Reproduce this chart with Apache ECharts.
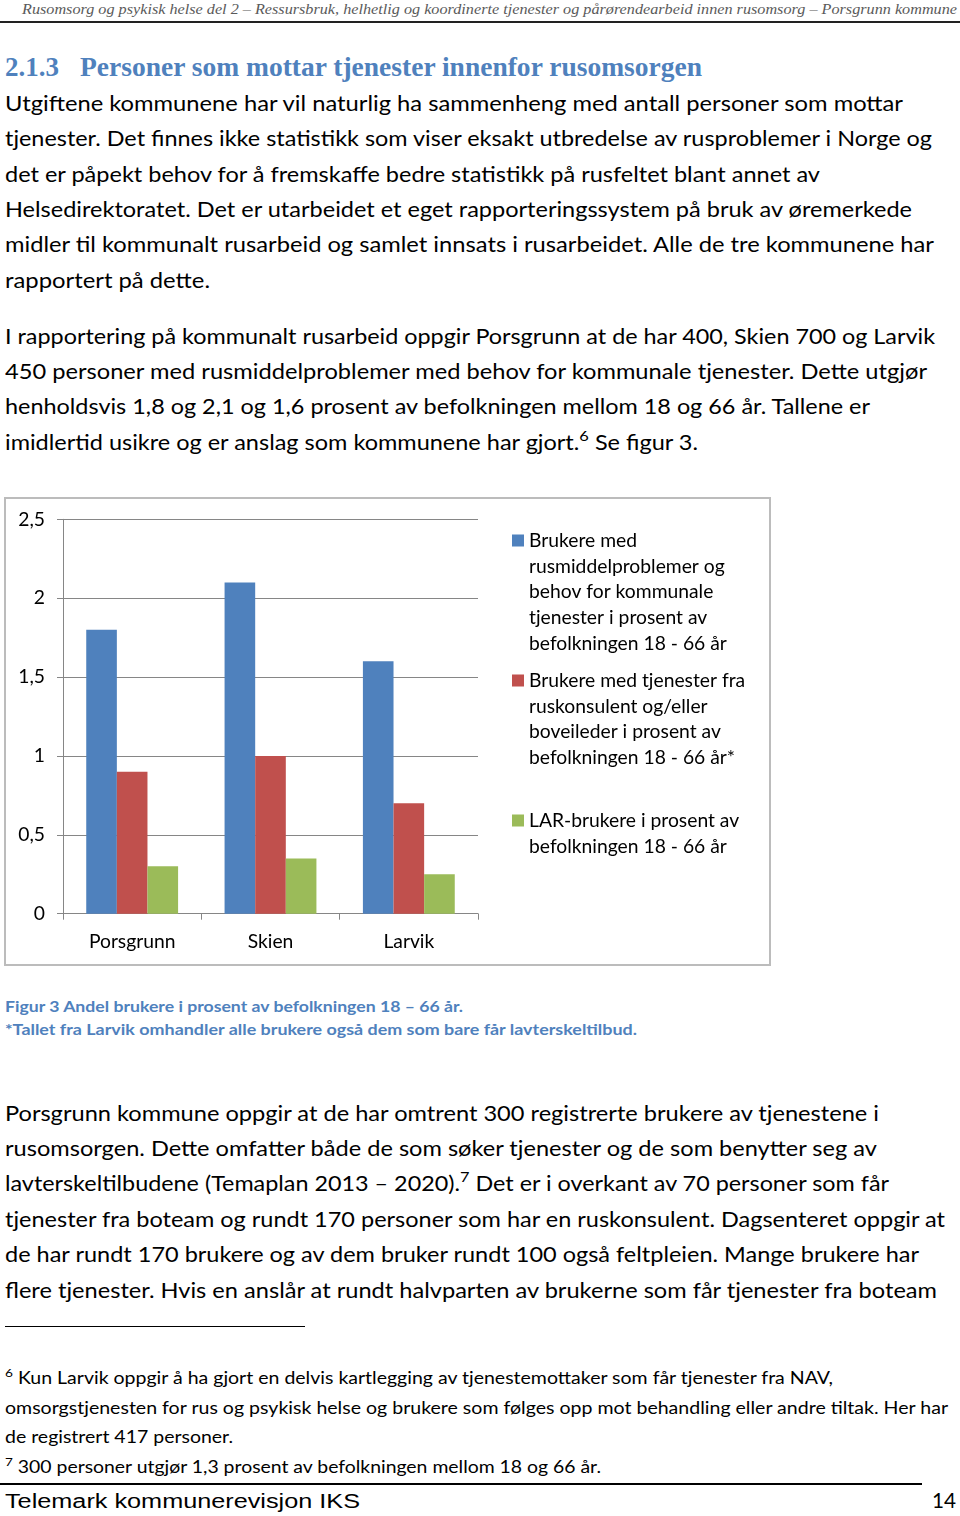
<!DOCTYPE html>
<html><head><meta charset="utf-8">
<script src="https://cdn.jsdelivr.net/npm/echarts@6/dist/echarts.min.js"></script>
<style>
html,body{margin:0;padding:0;background:#fff;}
#page{position:relative;width:960px;height:1516px;overflow:hidden;background:#fff;}
.ln{position:absolute;white-space:nowrap;transform-origin:0 0;line-height:1.2;}
.hdr{font-family:"Liberation Serif";font-style:italic;font-size:15px;color:#5a5a5a;}
.h2{font-family:"Liberation Serif";font-weight:bold;font-size:28px;color:#4F81BD;}
.body{font-family:Lato;font-size:20.3px;color:#000;}
.cap{font-family:Lato;font-weight:bold;font-size:16px;color:#4F81BD;}
.fn{font-family:Lato;font-size:16.8px;color:#000;}
.foot{font-family:"Liberation Sans";font-size:19.5px;color:#000;}
.pg{font-family:Lato;font-size:20.5px;color:#000;}
sup{font-size:0.7em;vertical-align:0.6em;line-height:0;}
.rule{position:absolute;background:#000;}
#chartBox{position:absolute;left:4px;top:497px;width:767px;height:469px;box-sizing:border-box;border:2px solid #bcbcbc;}
#chart{position:absolute;left:4px;top:497px;width:767px;height:469px;}
</style>
</head><body>
<div id="page">
  <div class="rule" style="left:0;top:21px;width:960px;height:2px;background:#222;"></div>
  <div class="rule" style="left:5px;top:1326px;width:300px;height:1px;"></div>
  <div class="rule" style="left:0;top:1483px;width:922px;height:1.5px;"></div>
  <div id="chartBox"></div>
  <div id="chart"></div>
</div>
<script>
// ---- chart data ----
const categories = ['Porsgrunn', 'Skien', 'Larvik'];
const brukereMedBehov = [1.8, 2.1, 1.6];
const brukereMedTjenester = [0.9, 1.0, 0.7];
const larBrukere = [0.3, 0.35, 0.25];
const legendLines = [
  ['Brukere med', 'rusmiddelproblemer og', 'behov for kommunale', 'tjenester i prosent av', 'befolkningen 18 - 66 år'],
  ['Brukere med tjenester fra', 'ruskonsulent og/eller', 'boveileder i prosent av', 'befolkningen 18 - 66 år*'],
  ['LAR-brukere i prosent av', 'befolkningen 18 - 66 år']
];
const seriesColors = ['#4F81BD', '#C0504D', '#9BBB59'];
const seriesValues = [brukereMedBehov, brukereMedTjenester, larBrukere];
const seriesNames = legendLines.map(l => l.join(' '));

// ---- page text lines: [html, left, baseline, right, class] ----
const textLines = [
  ['Rusomsorg og psykisk helse del 2 – Ressursbruk, helhetlig og koordinerte tjenester og pårørendearbeid innen rusomsorg – Porsgrunn kommune', 22, 14, 957, 'hdr'],
  ['2.1.3', 5, 76, 59, 'h2'],
  ['Personer som mottar tjenester innenfor rusomsorgen', 80, 76, 702, 'h2'],
  ['Utgiftene kommunene har vil naturlig ha sammenheng med antall personer som mottar', 5, 111, 903, 'body'],
  ['tjenester. Det finnes ikke statistikk som viser eksakt utbredelse av rusproblemer i Norge og', 5, 146.3, 932, 'body'],
  ['det er påpekt behov for å fremskaffe bedre statistikk på rusfeltet blant annet av', 5, 181.6, 820, 'body'],
  ['Helsedirektoratet. Det er utarbeidet et eget rapporteringssystem på bruk av øremerkede', 5, 216.9, 912, 'body'],
  ['midler til kommunalt rusarbeid og samlet innsats i rusarbeidet. Alle de tre kommunene har', 5, 252.2, 934, 'body'],
  ['rapportert på dette.', 5, 287.5, 210, 'body'],
  ['I rapportering på kommunalt rusarbeid oppgir Porsgrunn at de har 400, Skien 700 og Larvik', 5, 343.7, 935, 'body'],
  ['450 personer med rusmiddelproblemer med behov for kommunale tjenester. Dette utgjør', 5, 379, 927, 'body'],
  ['henholdsvis 1,8 og 2,1 og 1,6 prosent av befolkningen mellom 18 og 66 år. Tallene er', 5, 414.3, 870, 'body'],
  ['imidlertid usikre og er anslag som kommunene har gjort.<sup>6</sup> Se figur 3.', 5, 449.6, 698, 'body'],
  ['Figur 3 Andel brukere i prosent av befolkningen 18 – 66 år.', 5, 1011.5, 463, 'cap'],
  ['*Tallet fra Larvik omhandler alle brukere også dem som bare får lavterskeltilbud.', 5, 1034.5, 637, 'cap'],
  ['Porsgrunn kommune oppgir at de har omtrent 300 registrerte brukere av tjenestene i', 5, 1120.5, 879, 'body'],
  ['rusomsorgen. Dette omfatter både de som søker tjenester og de som benytter seg av', 5, 1155.9, 877, 'body'],
  ['lavterskeltilbudene (Temaplan 2013 – 2020).<sup>7</sup> Det er i overkant av 70 personer som får', 5, 1191.3, 889, 'body'],
  ['tjenester fra boteam og rundt 170 personer som har en ruskonsulent. Dagsenteret oppgir at', 5, 1226.7, 945, 'body'],
  ['de har rundt 170 brukere og av dem bruker rundt 100 også feltpleien. Mange brukere har', 5, 1262.1, 919, 'body'],
  ['flere tjenester. Hvis en anslår at rundt halvparten av brukerne som får tjenester fra boteam', 5, 1297.5, 937, 'body'],
  ['<sup>6</sup> Kun Larvik oppgir å ha gjort en delvis kartlegging av tjenestemottaker som får tjenester fra NAV,', 5, 1384, 833, 'fn'],
  ['omsorgstjenesten for rus og psykisk helse og brukere som følges opp mot behandling eller andre tiltak. Her har', 5, 1413.5, 948, 'fn'],
  ['de registrert 417 personer.', 5, 1443, 233, 'fn'],
  ['<sup>7</sup> 300 personer utgjør 1,3 prosent av befolkningen mellom 18 og 66 år.', 5, 1472.5, 601, 'fn'],
  ['Telemark kommunerevisjon IKS', 5, 1508, 360, 'foot'],
  ['14', 932, 1508, 956, 'pg']
];

const page = document.getElementById('page');
textLines.forEach(([html, x, base, right, cls]) => {
  const d = document.createElement('div');
  d.className = 'ln ' + cls;
  d.innerHTML = html + '<span style="display:inline-block;width:0;height:0;vertical-align:baseline"></span>';
  d.style.left = x + 'px';
  d.style.top = '0px';
  page.appendChild(d);
  const mark = d.lastChild;
  const off = mark.offsetTop;
  d.style.top = (base - off) + 'px';
  const w = d.getBoundingClientRect().width;
  if (w > 0) d.style.transform = 'scaleX(' + ((right - x) / w) + ')';
});

// ---- chart ----
const chart = echarts.init(document.getElementById('chart'), null, {renderer: 'canvas'});
const LH = 25.8;
const FS = 19.3;
function legendIcon(n) {
  const H = n * LH;
  const y0 = (LH - 12) / 2;
  return 'path://M0,0h0.01v0.01h-0.01z M0,' + y0 + 'h12v12h-12z M11.99,' + (H - 0.01) + 'h0.01v0.01h-0.01z';
}
const legendTops = [30.6, 170.6, 310.6];
const legends = legendLines.map((lines, i) => ({
  data: [seriesNames[i]],
  orient: 'vertical',
  left: 508,
  top: legendTops[i],
  padding: 0,
  itemWidth: 12,
  itemHeight: lines.length * LH,
  icon: legendIcon(lines.length),
  selectedMode: false,
  formatter: () => lines.join('\n'),
  textStyle: {fontFamily: 'Lato', fontSize: FS, lineHeight: LH, color: '#000'}
}));

chart.setOption({
  animation: false,
  backgroundColor: 'transparent',
  legend: legends,
  grid: {left: 59, right: 293, top: 22.3, bottom: 52.3, containLabel: false},
  xAxis: {
    type: 'category',
    data: categories,
    axisLine: {show: true, lineStyle: {color: '#868686', width: 1}},
    axisTick: {show: true, length: 6, interval: 0, lineStyle: {color: '#868686'}},
    axisLabel: {margin: 18.5, fontFamily: 'Lato', fontSize: FS, color: '#000', interval: 0},
    splitLine: {show: false}
  },
  yAxis: {
    type: 'value',
    min: 0, max: 2.5, interval: 0.5,
    axisLine: {show: true, lineStyle: {color: '#868686', width: 1}},
    axisTick: {show: true, length: 6, lineStyle: {color: '#868686'}},
    axisLabel: {margin: 18, fontFamily: 'Lato', fontSize: FS, color: '#000',
      formatter: v => String(v).replace('.', ',')},
    splitLine: {show: true, lineStyle: {color: '#868686', width: 1}}
  },
  series: seriesValues.map((vals, i) => ({
    name: seriesNames[i],
    type: 'bar',
    data: vals,
    barGap: '0%',
    barCategoryGap: '33.6%',
    itemStyle: {color: seriesColors[i]},
    emphasis: {disabled: true}
  }))
});
</script>
</body></html>
